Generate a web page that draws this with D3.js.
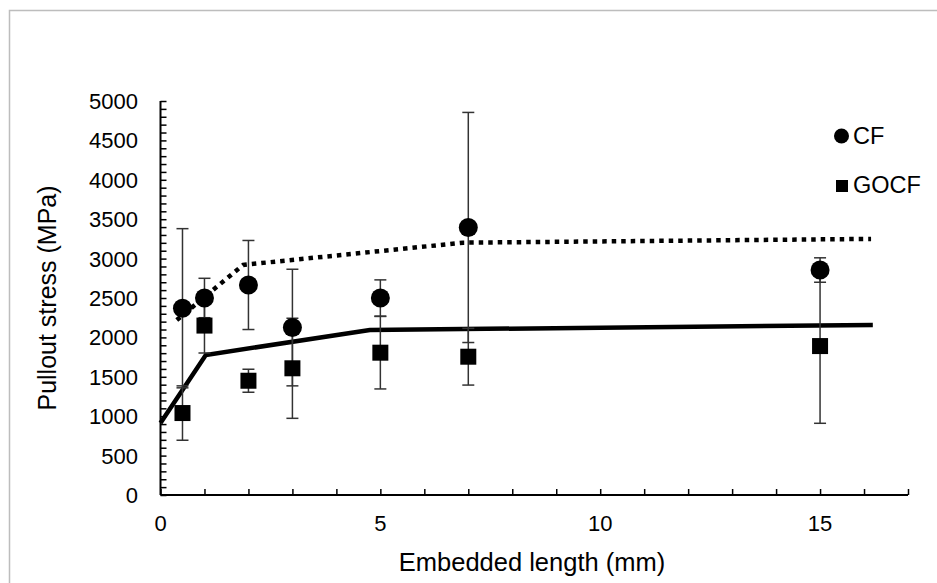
<!DOCTYPE html>
<html>
<head>
<meta charset="utf-8">
<script src="https://cdn.jsdelivr.net/npm/d3@7"></script>
<style>
	body { margin: 0; background: #fff; }
	text { font-family: "Liberation Sans", Arial, sans-serif; fill: #000; }
</style>
</head>
<body>
<svg id="chart"></svg>
<script>
// embedded lengths (mm)
var lengths = [0.5, 1, 2, 3, 5, 7, 15];

// CF pullout stress, mean and std dev (MPa)
var cfMean = [2370, 2500, 2665, 2125, 2500, 3395, 2855];
var cfErr = [1010, 250, 565, 740, 230, 1460, 155];

// GOCF pullout stress, mean and std dev (MPa)
var gocfMean = [1040, 2150, 1450, 1608, 1806, 1755, 1890];
var gocfErr = [345, 348, 146, 635, 460, 360, 980];

// model curves
var cfModelX = [0.37, 1.88, 6.88, 16.16];
var cfModelY = [2220, 2920, 3202, 3250];
var gocfModelX = [0, 1.03, 4.76, 16.2];
var gocfModelY = [915, 1777, 2094, 2157];

var yTicks = [0, 500, 1000, 1500, 2000, 2500, 3000, 3500, 4000, 4500, 5000];
var xTicks = [0, 5, 10, 15];

var width = 937, height = 583;
var svg = d3.select("#chart").attr("width", width).attr("height", height);

//outer frame
svg.append("rect").attr("x", 9.5).attr("y", 10.5).attr("width", 960).attr("height", 600)
	.style("fill", "none").style("stroke", "#bdbdbd").style("stroke-width", 1.5);

var x = d3.scaleLinear().domain([0, 17]).range([160.5, 908]);
var y = d3.scaleLinear().domain([0, 5000]).range([495, 101]);

var g = svg.append("g");

//y axis: minor ticks every 100, inside
g.append("g").attr("transform", "translate(" + x(0) + ",0)")
	.call(d3.axisRight(y).tickValues(d3.range(0, 5001, 100)).tickSize(6).tickFormat(""))
	.call(function(a) { a.select(".domain").remove(); })
	.selectAll("line").style("stroke", "#000").style("stroke-width", 1.5);

//y tick labels
g.append("g").selectAll("text").data(yTicks).enter().append("text")
	.attr("x", 138).attr("y", function(d) { return y(d); })
	.attr("dy", "0.36em").attr("text-anchor", "end")
	.style("font-size", "22px").text(function(d) { return d; });

//x axis ticks every 1, inside
g.append("g").attr("transform", "translate(0," + y(0) + ")")
	.call(d3.axisTop(x).tickValues(d3.range(0, 18, 1)).tickSize(6).tickFormat(""))
	.call(function(a) { a.select(".domain").remove(); })
	.selectAll("line").style("stroke", "#000").style("stroke-width", 1.5);

//axis lines
g.append("line").attr("x1", x(0)).attr("x2", x(0)).attr("y1", y(5000)).attr("y2", y(0))
	.style("stroke", "#000").style("stroke-width", 2);
g.append("line").attr("x1", x(0)).attr("x2", x(17)).attr("y1", y(0)).attr("y2", y(0))
	.style("stroke", "#000").style("stroke-width", 2);

//x tick labels
g.append("g").selectAll("text").data(xTicks).enter().append("text")
	.attr("x", function(d) { return x(d); }).attr("y", 531)
	.attr("text-anchor", "middle")
	.style("font-size", "22px").text(function(d) { return d; });

//axis titles
svg.append("text").attr("x", 532).attr("y", 571).attr("text-anchor", "middle")
	.style("font-size", "25.5px").text("Embedded length (mm)");
svg.append("text").attr("transform", "translate(56,298) rotate(-90)").attr("text-anchor", "middle")
	.style("font-size", "25px").text("Pullout stress (MPa)");

//model lines
var line = d3.line().x(function(d) { return x(d[0]); }).y(function(d) { return y(d[1]); });
g.append("path").datum(d3.zip(cfModelX, cfModelY)).attr("d", line)
	.style("fill", "none").style("stroke", "#000").style("stroke-width", 4.5)
	.style("stroke-dasharray", "4.5,5");
g.append("path").datum(d3.zip(gocfModelX, gocfModelY)).attr("d", line)
	.style("fill", "none").style("stroke", "#000").style("stroke-width", 4.5);

//error bars
function errorBars(means, errs) {
	var eb = g.append("g").selectAll("g").data(d3.zip(lengths, means, errs)).enter().append("g")
		.style("stroke", "#333").style("stroke-width", 1.5);
	eb.append("line").attr("x1", function(d) { return x(d[0]); }).attr("x2", function(d) { return x(d[0]); })
		.attr("y1", function(d) { return y(d[1] - d[2]); }).attr("y2", function(d) { return y(d[1] + d[2]); });
	[-1, 1].forEach(function(s) {
		eb.append("line").attr("x1", function(d) { return x(d[0]) - 6; }).attr("x2", function(d) { return x(d[0]) + 6; })
			.attr("y1", function(d) { return y(d[1] + s * d[2]); }).attr("y2", function(d) { return y(d[1] + s * d[2]); });
	});
}
errorBars(cfMean, cfErr);
errorBars(gocfMean, gocfErr);

//markers
g.append("g").selectAll("circle").data(d3.zip(lengths, cfMean)).enter().append("circle")
	.attr("cx", function(d) { return x(d[0]); }).attr("cy", function(d) { return y(d[1]); })
	.attr("r", 9.5).style("fill", "#000");
g.append("g").selectAll("rect").data(d3.zip(lengths, gocfMean)).enter().append("rect")
	.attr("x", function(d) { return x(d[0]) - 8; }).attr("y", function(d) { return y(d[1]) - 8; })
	.attr("width", 16).attr("height", 16).style("fill", "#000");

//legend
var lg = svg.append("g");
lg.append("circle").attr("cx", 841.5).attr("cy", 136).attr("r", 7.5).style("fill", "#000");
lg.append("text").attr("x", 853).attr("y", 144).style("font-size", "23.5px").text("CF");
lg.append("rect").attr("x", 836).attr("y", 180).attr("width", 12).attr("height", 12).style("fill", "#000");
lg.append("text").attr("x", 853).attr("y", 193).style("font-size", "23.5px").text("GOCF");
</script>
</body>
</html>
